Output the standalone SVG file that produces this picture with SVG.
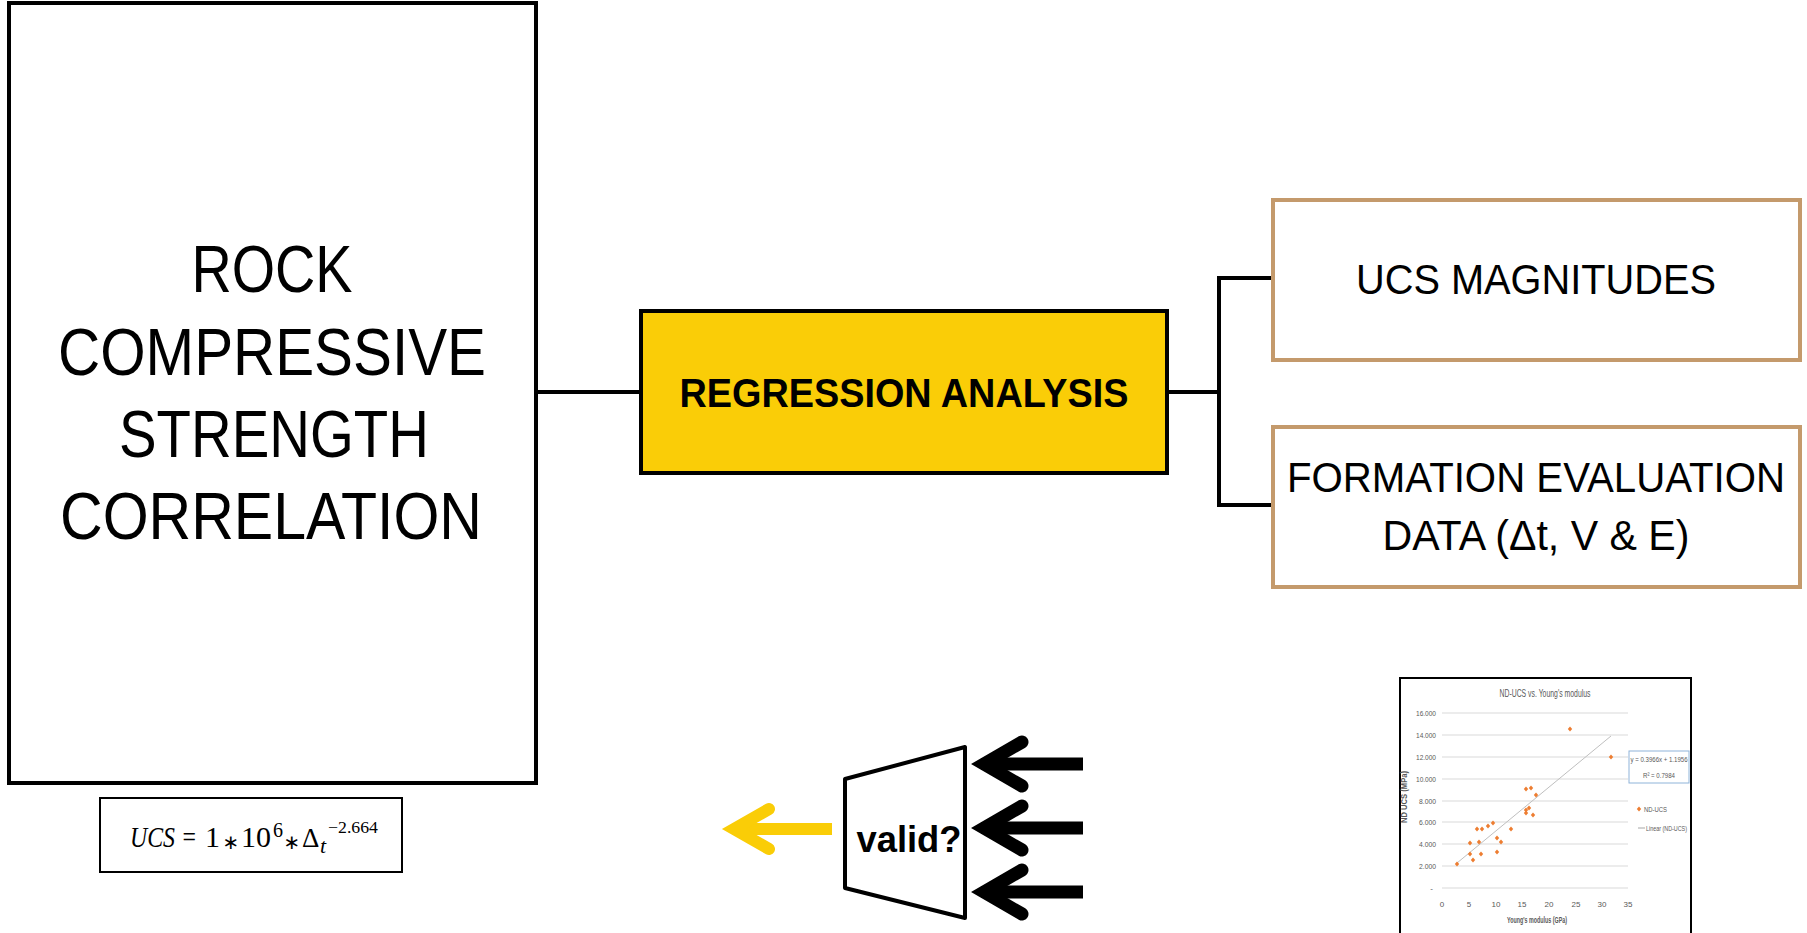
<svg xmlns="http://www.w3.org/2000/svg" xmlns:xlink="http://www.w3.org/1999/xlink" width="1807" height="933" viewBox="0 0 1807 933">
<style>
.big{font-family:"Liberation Sans",Arial,sans-serif;font-size:66px;fill:#000;text-anchor:middle}
.box{fill:#fff;stroke:#000;stroke-width:4}
.brown{fill:#fff;stroke:#C49A6C;stroke-width:4}
.lbl{font-family:"Liberation Sans",Arial,sans-serif;font-size:42px;fill:#000;text-anchor:middle}
.conn{fill:none;stroke:#000;stroke-width:4}
.math{font-family:"Liberation Serif","Times New Roman",serif;fill:#000}
.ast{font-family:"DejaVu Sans",sans-serif;fill:#000;text-anchor:middle}
.ch{font-family:"Liberation Sans",Arial,sans-serif;fill:#595959}
.grid{stroke:#D9D9D9;stroke-width:1}
</style>
<defs>
<path id="pt" d="M0,-2.6 L2.2,0 L0,2.6 L-2.2,0Z" fill="#ED7D31"/>
</defs>
<rect width="1807" height="933" fill="#fff"/>

<g id="connectors">
<path class="conn" d="M536 392 H641"/>
<path class="conn" d="M1167 392 H1219"/>
<path class="conn" d="M1272 278 H1219 V505 H1272"/>
</g>

<g id="rock">
<rect class="box" x="9" y="3" width="527" height="780"/>
<text class="big" x="272" y="292" textLength="161" lengthAdjust="spacingAndGlyphs">ROCK</text>
<text class="big" x="272" y="375" textLength="428" lengthAdjust="spacingAndGlyphs">COMPRESSIVE</text>
<text class="big" x="274" y="457" textLength="310" lengthAdjust="spacingAndGlyphs">STRENGTH</text>
<text class="big" x="271" y="539" textLength="422" lengthAdjust="spacingAndGlyphs">CORRELATION</text>
</g>

<g id="formula">
<rect x="100" y="798" width="302" height="74" fill="#fff" stroke="#000" stroke-width="2"/>
<text class="math" x="130" y="847" style="font-size:30px;font-style:italic" textLength="67" lengthAdjust="spacingAndGlyphs">UCS =</text>
<text class="math" x="205" y="847" style="font-size:30px">1</text>
<text class="ast" x="231" y="849" style="font-size:20px">∗</text>
<text class="math" x="241" y="847" style="font-size:30px">10</text>
<text class="math" x="273" y="837" style="font-size:20px">6</text>
<text class="ast" x="292" y="849" style="font-size:20px">∗</text>
<text class="math" x="302" y="847" style="font-size:27px">Δ</text>
<text class="math" x="320" y="853" style="font-size:22px;font-style:italic">t</text>
<text class="math" x="328" y="833" style="font-size:17px" textLength="50" lengthAdjust="spacingAndGlyphs">−2.664</text>
</g>

<g id="regression">
<rect x="641" y="311" width="526" height="162" fill="#FACD07" stroke="#000" stroke-width="4"/>
<text x="904" y="407" font-family="'Liberation Sans',Arial,sans-serif" font-size="40" font-weight="bold" text-anchor="middle" textLength="449" lengthAdjust="spacingAndGlyphs">REGRESSION ANALYSIS</text>
</g>

<g id="ucs">
<rect class="brown" x="1273" y="200" width="527" height="160"/>
<text class="lbl" x="1536" y="294" textLength="360" lengthAdjust="spacingAndGlyphs">UCS MAGNITUDES</text>
</g>

<g id="formation">
<rect class="brown" x="1273" y="427" width="527" height="160"/>
<text class="lbl" x="1536" y="492" textLength="498" lengthAdjust="spacingAndGlyphs">FORMATION EVALUATION</text>
<text class="lbl" x="1536" y="550" textLength="307" lengthAdjust="spacingAndGlyphs">DATA (Δt, V &amp; E)</text>
</g>

<g id="validation">
<path d="M845 779 L965 747 V918 L845 888 Z" fill="#fff" stroke="#000" stroke-width="4" stroke-linejoin="round"/>
<text x="909" y="852" font-family="'Liberation Sans',Arial,sans-serif" font-size="37" font-weight="bold" text-anchor="middle" textLength="105" lengthAdjust="spacingAndGlyphs">valid?</text>
</g>

<g id="output-arrow" fill="none" stroke="#FACD07" stroke-width="12">
<path d="M832 829 H736"/>
<path d="M769 809 L734 829 L769 849" stroke-linecap="round"/>
</g>

<g id="input-arrows" fill="none" stroke="#000" stroke-width="13">
<path d="M1083 764 H986"/>
<path d="M1022 742 L984 764 L1022 786" stroke-linecap="round"/>
<path d="M1083 828 H986"/>
<path d="M1022 806 L984 828 L1022 850" stroke-linecap="round"/>
<path d="M1083 892 H986"/>
<path d="M1022 870 L984 892 L1022 914" stroke-linecap="round"/>
</g>

<g id="chart">
<rect x="1400" y="678" width="291" height="262" fill="#fff" stroke="#000" stroke-width="2"/>
<text class="ch" x="1545" y="697" font-size="11" text-anchor="middle" textLength="91" lengthAdjust="spacingAndGlyphs">ND-UCS vs. Young's modulus</text>
<g class="grid">
<line x1="1442" y1="713" x2="1628" y2="713"/>
<line x1="1442" y1="735" x2="1628" y2="735"/>
<line x1="1442" y1="757" x2="1628" y2="757"/>
<line x1="1442" y1="779" x2="1628" y2="779"/>
<line x1="1442" y1="801" x2="1628" y2="801"/>
<line x1="1442" y1="822" x2="1628" y2="822"/>
<line x1="1442" y1="844" x2="1628" y2="844"/>
<line x1="1442" y1="866" x2="1628" y2="866"/>
<line x1="1442" y1="888" x2="1628" y2="888"/>
</g>
<g class="ch" font-size="8" text-anchor="end">
<text x="1436" y="716" textLength="20" lengthAdjust="spacingAndGlyphs">16.000</text>
<text x="1436" y="738" textLength="20" lengthAdjust="spacingAndGlyphs">14.000</text>
<text x="1436" y="760" textLength="20" lengthAdjust="spacingAndGlyphs">12.000</text>
<text x="1436" y="782" textLength="20" lengthAdjust="spacingAndGlyphs">10.000</text>
<text x="1436" y="804" textLength="17" lengthAdjust="spacingAndGlyphs">8.000</text>
<text x="1436" y="825" textLength="17" lengthAdjust="spacingAndGlyphs">6.000</text>
<text x="1436" y="847" textLength="17" lengthAdjust="spacingAndGlyphs">4.000</text>
<text x="1436" y="869" textLength="17" lengthAdjust="spacingAndGlyphs">2.000</text>
<text x="1433" y="891">-</text>
</g>
<g class="ch" font-size="8" text-anchor="middle">
<text x="1442" y="907">0</text>
<text x="1469" y="907">5</text>
<text x="1496" y="907">10</text>
<text x="1522" y="907">15</text>
<text x="1549" y="907">20</text>
<text x="1576" y="907">25</text>
<text x="1602" y="907">30</text>
<text x="1628" y="907">35</text>
</g>
<text class="ch" x="1537" y="923" font-size="8.5" font-weight="bold" text-anchor="middle" textLength="60" lengthAdjust="spacingAndGlyphs">Young's modulus (GPa)</text>
<text class="ch" transform="translate(1407 797) rotate(-90)" font-size="8.5" font-weight="bold" text-anchor="middle" textLength="52" lengthAdjust="spacingAndGlyphs">ND UCS (MPa)</text>
<line x1="1457" y1="863" x2="1611" y2="736" stroke="#BFBFBF" stroke-width="1"/>
<g>
<use xlink:href="#pt" x="1457" y="864"/>
<use xlink:href="#pt" x="1470" y="843"/>
<use xlink:href="#pt" x="1470" y="854"/>
<use xlink:href="#pt" x="1473" y="860"/>
<use xlink:href="#pt" x="1477" y="829"/>
<use xlink:href="#pt" x="1479" y="842"/>
<use xlink:href="#pt" x="1482" y="829"/>
<use xlink:href="#pt" x="1481" y="854"/>
<use xlink:href="#pt" x="1488" y="826"/>
<use xlink:href="#pt" x="1493" y="823"/>
<use xlink:href="#pt" x="1497" y="838"/>
<use xlink:href="#pt" x="1497" y="852"/>
<use xlink:href="#pt" x="1501" y="842"/>
<use xlink:href="#pt" x="1511" y="829"/>
<use xlink:href="#pt" x="1526" y="789"/>
<use xlink:href="#pt" x="1526" y="810"/>
<use xlink:href="#pt" x="1526" y="813"/>
<use xlink:href="#pt" x="1529" y="808"/>
<use xlink:href="#pt" x="1531" y="788"/>
<use xlink:href="#pt" x="1533" y="815"/>
<use xlink:href="#pt" x="1536" y="795"/>
<use xlink:href="#pt" x="1570" y="729"/>
<use xlink:href="#pt" x="1611" y="757"/>
</g>
<rect x="1629" y="751" width="60" height="32" fill="#fff" stroke="#8FB4D9" stroke-width="1"/>
<text class="ch" x="1659" y="762" font-size="8" text-anchor="middle" textLength="57" lengthAdjust="spacingAndGlyphs">y = 0.3966x + 1.1956</text>
<text class="ch" x="1659" y="778" font-size="8" text-anchor="middle" textLength="32" lengthAdjust="spacingAndGlyphs">R² = 0.7984</text>
<use xlink:href="#pt" x="1639" y="809"/>
<text class="ch" x="1644" y="812" font-size="8" textLength="23" lengthAdjust="spacingAndGlyphs">ND-UCS</text>
<line x1="1638" y1="828" x2="1645" y2="828" stroke="#A6A6A6" stroke-width="1"/>
<text class="ch" x="1646" y="831" font-size="8" textLength="41" lengthAdjust="spacingAndGlyphs">Linear (ND-UCS)</text>
</g>
</svg>
